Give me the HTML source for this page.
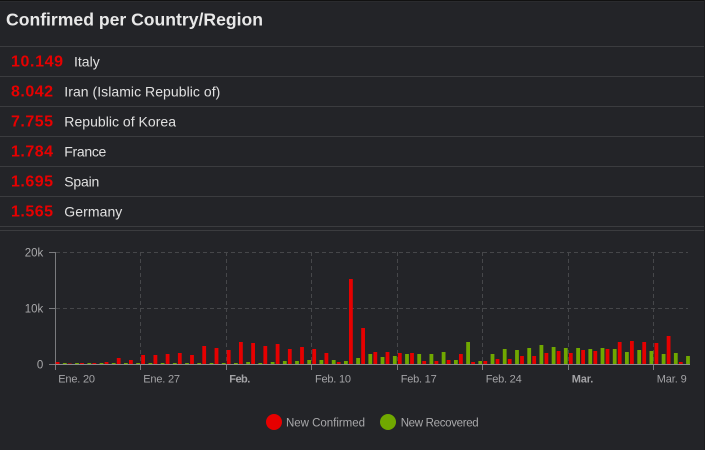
<!DOCTYPE html>
<html><head><meta charset="utf-8">
<style>
html,body{margin:0;padding:0;background:#232428;}
svg{display:block;}
</style></head>
<body>
<svg width="705" height="450" viewBox="0 0 705 450" xmlns="http://www.w3.org/2000/svg" font-family="Liberation Sans, Arial, sans-serif">
<rect width="705" height="450" fill="#232428"/>
<rect width="705" height="2" fill="#2a2b2e"/>
<rect width="705" height="1" fill="#111"/>
<rect x="704" width="1" height="450" fill="#1c1c1e"/>
<text x="6" y="25.3" font-size="17.5" font-weight="bold" fill="#e8e8e8" textLength="257" lengthAdjust="spacingAndGlyphs">Confirmed per Country/Region</text>
<path fill="#3b3c3f" d="M0 46h704v1H0zM0 76h704v1H0zM0 106h704v1H0zM0 136h704v1H0zM0 166h704v1H0zM0 196h704v1H0zM0 226h704v1H0zM0 230h704v1H0z"/>
<g font-size="16" font-weight="bold" fill="#e60000" lengthAdjust="spacingAndGlyphs">
<text x="11" y="66.7" textLength="52">10.149</text>
<text x="11" y="96.7" textLength="42">8.042</text>
<text x="11" y="126.7" textLength="42">7.755</text>
<text x="11" y="156.7" textLength="42">1.784</text>
<text x="11" y="186.7" textLength="42">1.695</text>
<text x="11" y="216.7" textLength="42">1.565</text>
</g>
<g font-size="14" fill="#e0e0e0">
<text x="74" y="66.7" textLength="25.7">Italy</text>
<text x="64.3" y="96.7" textLength="156">Iran (Islamic Republic of)</text>
<text x="64.3" y="126.7" textLength="111.7">Republic of Korea</text>
<text x="64.3" y="156.7" textLength="42">France</text>
<text x="64.3" y="186.7" textLength="35">Spain</text>
<text x="64.3" y="216.7" textLength="58">Germany</text>
</g>
<path stroke="#46474a" stroke-dasharray="4,3" fill="none" d="M56 252.5H688M56 308.5H688M140.5 252V364M226.5 252V364M311.5 252V364M397.5 252V364M482.5 252V364M568.5 252V364M653.5 252V364"/>
<path stroke="#7a7b7e" fill="none" d="M55.5 252V370M49 252.5H55M49 308.5H55M49 364.5H55M140.5 365V370M226.5 365V370M311.5 365V370M397.5 365V370M482.5 365V370M568.5 365V370M653.5 365V370"/>
<path fill="#e60000" d="M55.7 362h3.8v2h-3.8zM67.9 363.5h3.8v.5h-3.8zM80.1 363h3.8v1h-3.8zM92.4 363h3.8v1h-3.8zM104.6 362h3.8v2h-3.8zM116.8 358h3.8v6h-3.8zM129 360h3.8v4h-3.8zM141.2 355h3.8v9h-3.8zM153.5 355h3.8v9h-3.8zM165.7 354h3.8v10h-3.8zM177.9 353h3.8v11h-3.8zM190.1 355h3.8v9h-3.8zM202.3 346h3.8v18h-3.8zM214.6 348h3.8v16h-3.8zM226.8 350h3.8v14h-3.8zM239 342h3.8v22h-3.8zM251.2 343h3.8v21h-3.8zM263.4 346h3.8v18h-3.8zM275.7 344h3.8v20h-3.8zM287.9 349h3.8v15h-3.8zM300.1 347h3.8v17h-3.8zM312.3 349h3.8v15h-3.8zM324.5 353h3.8v11h-3.8zM336.8 362h3.8v2h-3.8zM349 279h3.8v85h-3.8zM361.2 328h3.8v36h-3.8zM373.4 352h3.8v12h-3.8zM385.6 352h3.8v12h-3.8zM397.9 353h3.8v11h-3.8zM410.1 353h3.8v11h-3.8zM422.3 361h3.8v3h-3.8zM434.5 361h3.8v3h-3.8zM446.7 360h3.8v4h-3.8zM459 354h3.8v10h-3.8zM471.2 362h3.8v2h-3.8zM483.4 361h3.8v3h-3.8zM495.6 359h3.8v5h-3.8zM507.8 359h3.8v5h-3.8zM520.1 356h3.8v8h-3.8zM532.3 356h3.8v8h-3.8zM544.5 353h3.8v11h-3.8zM556.7 351h3.8v13h-3.8zM568.9 353h3.8v11h-3.8zM581.2 350h3.8v14h-3.8zM593.4 351h3.8v13h-3.8zM605.6 349h3.8v15h-3.8zM617.8 342h3.8v22h-3.8zM630 341h3.8v23h-3.8zM642.3 342h3.8v22h-3.8zM654.5 343h3.8v21h-3.8zM666.7 336h3.8v28h-3.8zM678.9 362h3.8v2h-3.8z"/>
<path fill="#70a800" d="M62.9 363h3.8v1h-3.8zM75.1 363h3.8v1h-3.8zM87.4 363h3.8v1h-3.8zM99.6 363h3.8v1h-3.8zM111.8 363h3.8v1h-3.8zM124 363h3.8v1h-3.8zM136.2 363h3.8v1h-3.8zM148.5 363h3.8v1h-3.8zM160.7 363h3.8v1h-3.8zM172.9 363h3.8v1h-3.8zM185.1 363h3.8v1h-3.8zM197.3 363h3.8v1h-3.8zM209.6 363h3.8v1h-3.8zM221.8 363h3.8v1h-3.8zM234 363h3.8v1h-3.8zM246.2 362h3.8v2h-3.8zM258.4 363h3.8v1h-3.8zM270.7 362h3.8v2h-3.8zM282.9 361h3.8v3h-3.8zM295.1 361h3.8v3h-3.8zM307.3 360h3.8v4h-3.8zM319.5 360h3.8v4h-3.8zM331.8 360h3.8v4h-3.8zM344 361h3.8v3h-3.8zM356.2 358h3.8v6h-3.8zM368.4 354h3.8v10h-3.8zM380.6 357h3.8v7h-3.8zM392.9 356h3.8v8h-3.8zM405.1 354h3.8v10h-3.8zM417.3 354h3.8v10h-3.8zM429.5 354h3.8v10h-3.8zM441.7 352h3.8v12h-3.8zM454 360h3.8v4h-3.8zM466.2 342h3.8v22h-3.8zM478.4 361h3.8v3h-3.8zM490.6 354h3.8v10h-3.8zM502.8 349h3.8v15h-3.8zM515.1 350h3.8v14h-3.8zM527.3 348h3.8v16h-3.8zM539.5 345h3.8v19h-3.8zM551.7 347h3.8v17h-3.8zM563.9 348h3.8v16h-3.8zM576.2 348h3.8v16h-3.8zM588.4 349h3.8v15h-3.8zM600.6 348h3.8v16h-3.8zM612.8 349h3.8v15h-3.8zM625 352h3.8v12h-3.8zM637.3 350h3.8v14h-3.8zM649.5 351h3.8v13h-3.8zM661.7 354h3.8v10h-3.8zM673.9 353h3.8v11h-3.8zM686.1 356h3.8v8h-3.8z"/>
<rect x="55" y="364" width="635" height="1" fill="#8a8b8e"/>
<g font-size="11.5" fill="#a8a8aa" text-anchor="end">
<text x="43.3" y="256.5">20k</text>
<text x="43.3" y="312.5">10k</text>
<text x="43.3" y="368.5">0</text>
</g>
<g font-size="11" fill="#a3a3a6">
<text x="58.3" y="382.7" textLength="36.7">Ene. 20</text>
<text x="143.3" y="382.7" textLength="36.7">Ene. 27</text>
<text x="229.3" y="382.7" font-weight="bold" textLength="21">Feb.</text>
<text x="315" y="382.7" textLength="36">Feb. 10</text>
<text x="400.7" y="382.7" textLength="36">Feb. 17</text>
<text x="485.7" y="382.7" textLength="36">Feb. 24</text>
<text x="571.7" y="382.7" font-weight="bold" textLength="21.6">Mar.</text>
<text x="656.7" y="382.7" textLength="30">Mar. 9</text>
</g>
<circle cx="274" cy="422" r="8" fill="#e60000"/>
<text x="286" y="426.7" font-size="11.5" fill="#a8a8aa" textLength="79">New Confirmed</text>
<circle cx="388" cy="422" r="8" fill="#70a800"/>
<text x="400.7" y="426.7" font-size="11.5" fill="#a8a8aa" textLength="78">New Recovered</text>
</svg>
</body></html>
